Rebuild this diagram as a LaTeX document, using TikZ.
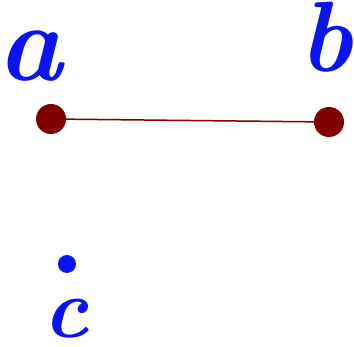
\documentclass[tikz,border=0pt]{standalone}
\usepackage{fontspec}
\definecolor{dotred}{HTML}{800000}
\definecolor{inkblue}{HTML}{0A14F0}
\tikzset{
  vertex/.style={circle, fill=dotred, minimum size=30pt, inner sep=0pt},
  smalldot/.style={circle, fill=inkblue, minimum size=18pt, inner sep=0pt},
  lbl/.style={text=inkblue, anchor=base, inner sep=0pt, font=\fontsize{100}{100}\selectfont\bfseries\itshape},
  edge/.style={draw=dotred, line width=1.5pt}
}
\begin{document}
\begin{tikzpicture}[x=1pt,y=-1pt]
\useasboundingbox (0,0) rectangle (354,347);
\node[vertex] (a) at (51,119) {};
\node[vertex] (b) at (329,122) {};
\draw[edge] (a) -- (b);
\node[smalldot] (c) at (67,264) {};
\node[lbl, font=\fontsize{110}{110}\selectfont\bfseries\itshape] (la) at (30,81) {a};
\node[lbl] (lb) at (326,72) {b};
\node[lbl, font=\fontsize{85}{85}\selectfont\bfseries\itshape] (lc) at (66,338) {c};
\end{tikzpicture}
\end{document}
